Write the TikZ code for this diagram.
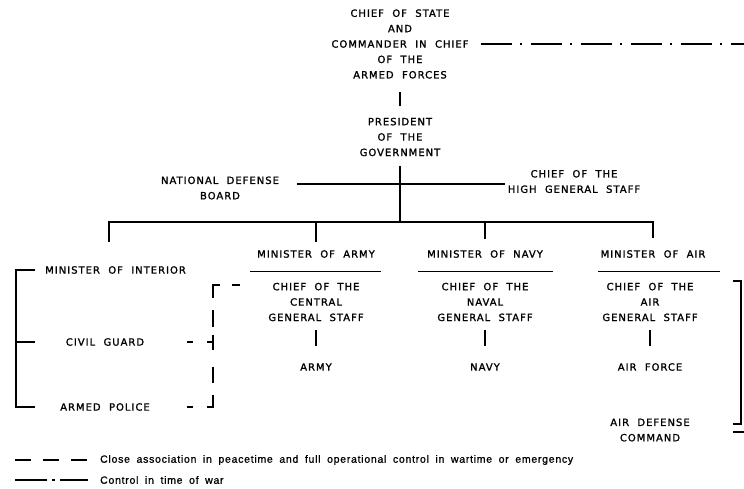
\documentclass[tikz,border=0pt]{standalone}
\usepackage{fontspec}
\setmainfont{DejaVu Sans}[LetterSpace=10,WordSpace=2,FakeBold=1.4]
\newfontfamily\legendfont{Liberation Sans}[LetterSpace=7,WordSpace=1.8,FakeBold=1]
\begin{document}
\begin{tikzpicture}[x=1pt,y=-1pt,
  lbl/.style={align=center,inner sep=0pt,font=\fontsize{10}{15.4}\selectfont},
  thk/.style={line width=2.8pt},
  thn/.style={line width=1pt},
  dsh/.style={line width=2.8pt,dash pattern=on 8pt off 12pt on 20pt off 12pt on 17pt off 8pt on 15pt off 17pt on 16pt off 12pt on 18pt off 14pt on 6pt off 20pt},
  ddot/.style={line width=2.8pt,dash pattern=on 31pt off 8pt on 2.5pt off 8.5pt},
  leg/.style={anchor=west,inner sep=0pt,font=\legendfont\fontsize{10.5}{12}\selectfont}]
\useasboundingbox (0,0) rectangle (744,488);
% top levels
\node[lbl] (cs) at (400,44) {CHIEF OF STATE\\AND\\COMMANDER IN CHIEF\\OF THE\\ARMED FORCES};
\node[lbl] (pres) at (400,137) {PRESIDENT\\OF THE\\GOVERNMENT};
\node[lbl] (ndb) at (220,188) {NATIONAL DEFENSE\\BOARD};
\node[lbl] (hgs) at (574,181.5) {CHIEF OF THE\\HIGH GENERAL STAFF};
\coordinate (cr) at (400,184);
\coordinate (jn) at (400,222);
\coordinate (dL) at (109,242);
\coordinate (ddend) at (744,44);
% ministers
\node[lbl] (minA) at (316,254) {MINISTER OF ARMY};
\node[lbl] (minN) at (485,254) {MINISTER OF NAVY};
\node[lbl] (minR) at (653,254) {MINISTER OF AIR};
\node[lbl] (mi) at (45,270) [anchor=west] {MINISTER OF INTERIOR};
\node[lbl] (cA) at (316,302) {CHIEF OF THE\\CENTRAL\\GENERAL STAFF};
\node[lbl] (cN) at (485,302) {CHIEF OF THE\\NAVAL\\GENERAL STAFF};
\node[lbl] (cR) at (650,302) {CHIEF OF THE\\AIR\\GENERAL STAFF};
\node[lbl] (army) at (316,367) {ARMY};
\node[lbl] (navy) at (485,367) {NAVY};
\node[lbl] (af) at (650,367) {AIR FORCE};
\node[lbl] (adc) at (650,430) {AIR DEFENSE\\COMMAND};
\node[lbl] (cg) at (105,342) {CIVIL GUARD};
\node[lbl] (ap) at (105,407) {ARMED POLICE};
% connectors
\draw[thk,shorten <=13pt,shorten >=12pt] (cs) -- (pres);
\draw[thk,shorten <=10pt] (pres.south) -- (jn);
\draw[thk] ([xshift=18pt]ndb.east |- cr) -- ([xshift=-3pt]hgs.west |- cr);
\draw[thk] (dL) -- (dL |- jn) -- (minR.north |- jn) -- ([yshift=12pt]minR.north);
\draw[thk,shorten >=8pt] (minA.north |- jn) -- (minA.north);
\draw[thk,shorten >=11pt] (minN.north |- jn) -- (minN.north);
% underlines
\draw[thn] (250,271) coordinate (ua1) -- (381,271) coordinate (ua2);
\draw[thn] (418,271) coordinate (un1) -- (553,271) coordinate (un2);
\draw[thn] (598,271) coordinate (ur1) -- (720,271) coordinate (ur2);
% staff to forces
\draw[thk,shorten <=9pt,shorten >=17pt] (cA.south) -- (army.north);
\draw[thk,shorten <=9pt,shorten >=17pt] (cN.south) -- (navy.north);
\draw[thk,shorten <=9pt,shorten >=17pt] (cR.south) -- (af.north);
% left bracket
\coordinate (lb) at (16,0);
\coordinate (lt) at (35,0);
\draw[thk] (lt |- mi.west) -- (lb |- mi.west) -- (lb |- ap.west) -- (lt |- ap.west);
\draw[thk] (lb |- cg.west) -- (lt |- cg.west);
% dashed bracket
\coordinate (dtop) at (240,285);
\coordinate (db) at (213,285);
\coordinate (dl) at (187,0);
\draw[dsh] (dtop) -- (db) -- (db |- ap.east) -- (dl |- ap.east);
\draw[thk,dash pattern=on 6pt off 14pt] (dl |- cg.east) -- (db |- cg.east);
% right bracket
\coordinate (rt) at (733,281);
\coordinate (rbt) at (733,424);
\coordinate (rx) at (733,432);
\coordinate (rxe) at (744,432);
\draw[thk] (rt) -- ++(8,0) |- (rbt);
\draw[thk] (rx) -- (rxe);
% dash-dot from chief of state
\draw[ddot] ([xshift=12pt]cs.east) -- (ddend);
% legend
\node[leg] (lg1) at (100,460) {Close association in peacetime and full operational control in wartime or emergency};
\node[leg] (lg2) at (100,480) {Control in time of war};
\coordinate (l0) at (15,0);
\coordinate (l1) at (89,0);
\draw[line width=2.8pt,dash pattern=on 16pt off 12pt] (l0 |- lg1.west) -- (l1 |- lg1.west);
\draw[line width=2.8pt,dash pattern=on 32pt off 5pt on 2.5pt off 5.5pt on 28pt] (l0 |- lg2.west) -- (l1 |- lg2.west);
\end{tikzpicture}
\end{document}
